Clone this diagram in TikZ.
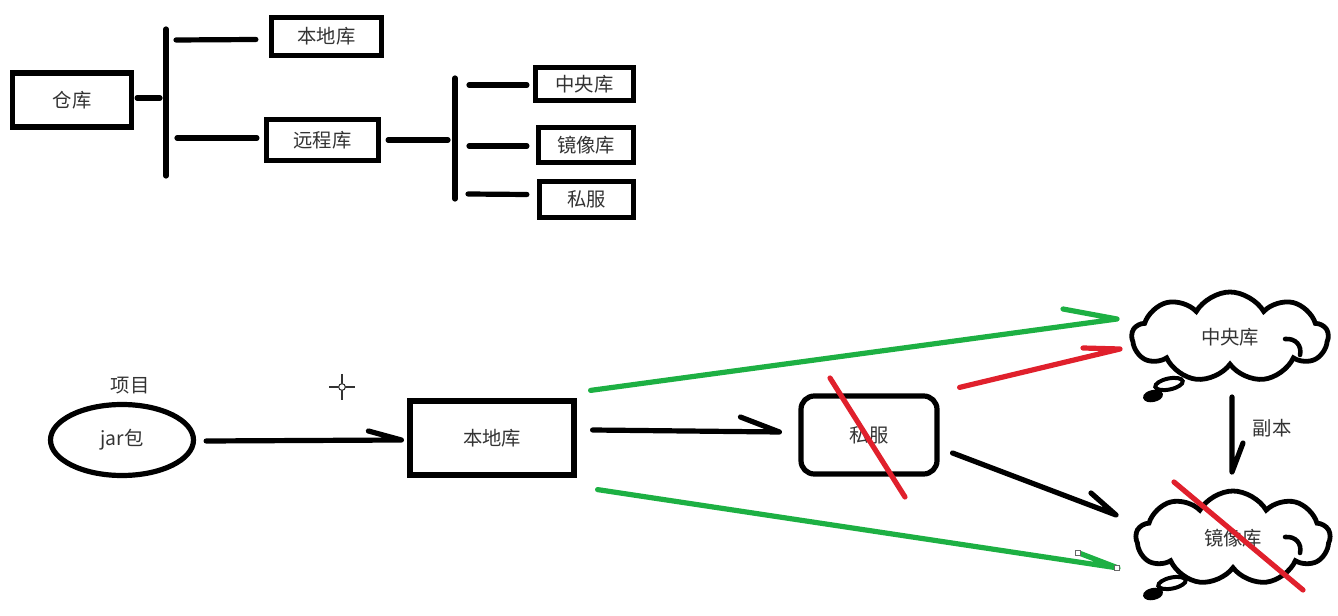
\documentclass[tikz,border=0pt]{standalone}
\usepackage{fontspec}
\setmainfont{Noto Sans CJK SC}
\usetikzlibrary{shapes.geometric,shapes.symbols,calc}
\definecolor{txt}{HTML}{333333}
\definecolor{grn}{HTML}{1DB043}
\definecolor{rd}{HTML}{E0202C}
\tikzset{
  wh/.style 2 args={minimum width=#1*0.75pt, minimum height=#2*0.75pt},
  lbl/.style={text=txt, font=\fontsize{14.5}{16}\selectfont, inner sep=0pt},
  tbox/.style={draw, line width=3.9pt, lbl},
  ln/.style={line width=3.9pt, line cap=round},
  arr/.style={line width=3.9pt, line cap=round, line join=round},
  cld/.style={cloud, draw, line width=3.6pt, cloud puffs=9, cloud puff arc=120, aspect=2.2, lbl},
  bub/.style={ellipse, draw, line width=3pt, inner sep=0pt},
  curl/.style={line width=3.4pt, line cap=round},
  slash/.style={rd, line width=3.9pt, line cap=round}}
\begin{document}
\begin{tikzpicture}[x=0.75pt,y=-0.75pt]
\useasboundingbox (0,0) rectangle (1338,616);
% ---------- top tree ----------
\node[tbox, wh={119}{54}] (ck) at (72,100) {仓库};
\node[tbox, wh={110}{38}] (bd) at (326.5,36.5) {本地库};
\node[tbox, wh={112}{41}] (yc) at (322.5,140) {远程库};
\node[tbox, wh={98}{33}] (zy) at (584.5,84) {中央库};
\node[tbox, wh={95}{35}] (jx) at (586,145) {镜像库};
\node[tbox, wh={94}{36}] (sf) at (586.5,199.5) {私服};
\coordinate (b1t) at (166,29);
\coordinate (b1b) at (166,176);
\coordinate (b2t) at (455,78);
\coordinate (b2b) at (455,199);
\draw[ln] (b1t) -- (b1b);
\draw[ln] (b2t) -- (b2b);
\draw[ln] ($(ck.east)+(3,-2)$) -- (160,98);
\draw[ln] (176,40) -- ($(bd.west)+(-13,3)$);
\draw[ln] (177,138) -- ($(yc.west)+(-7,-2)$);
\draw[ln] ($(yc.east)+(7,0)$) -- (448,140);
\draw[ln] (469,85) -- ($(zy.west)+(-6,1)$);
\draw[ln] (469,146) -- ($(jx.west)+(-9,1)$);
\draw[ln] (468,194) -- ($(sf.west)+(-10,-5)$);
% ---------- bottom ----------
\node[lbl] (xm) at (130,386) {项目};
\node[ellipse, draw, line width=3.9pt, lbl, wh={143}{71}] (jar) at (122,440) {jar包};
\node[tbox, wh={164}{74}] (bdk) at (492,438) {本地库};
\node[draw, line width=3.9pt, rounded corners=10pt, lbl, wh={136}{78}] (ps) at (869,435) {私服};
\node[cld, wh={196}{90}] (c1) at (1230,337) {中央库};
\node[cld, wh={194}{94}] (c2) at (1233,538) {镜像库};
\draw[curl] ($(c1.center)+(55,2)$) .. controls ($(c1.center)+(66,1)$) and ($(c1.center)+(72,9)$) .. ($(c1.center)+(70,18)$);
\draw[curl] ($(c2.center)+(52,-1)$) .. controls ($(c2.center)+(63,-2)$) and ($(c2.center)+(69,6)$) .. ($(c2.center)+(67,15)$);
\node[bub, rotate=12, wh={28}{11}] (c1b1) at (1169,384) {};
\node[bub, rotate=12, fill, wh={16}{8}] (c1b2) at (1153,396) {};
\node[bub, rotate=12, wh={28}{11}] (c2b1) at (1172,583) {};
\node[bub, rotate=12, fill, wh={16}{8}] (c2b2) at (1153,594) {};
% arrows
\draw[arr] ($(jar.east)+(10,1)$) -- ($(bdk.west)+(-6,2)$) -- ++(-33,-9);
\draw[arr] ($(bdk.east)+(16,-8)$) -- ($(ps.west)+(-19,-3)$) -- ++(-39,-15);
\draw[arr] ($(ps.east)+(13,18)$) -- ($(c2.center)+(-117,-23)$) -- ++(-25,-22);
\draw[arr, grn] ($(bdk.north east)+(14,-8)$) -- ($(c1.center)+(-113,-18)$) -- ++(-54,-10);
\draw[arr, rd] ($(ps.north east)+(20,-6)$) -- ($(c1.center)+(-110,12)$) -- ++(-37,-1);
\draw[arr, grn] ($(bdk.south east)+(21,12)$) -- ($(c2.center)+(-115,30)$) -- ++(-39,-15);
\draw[arr] ($(c1.center)+(2,60)$) -- ($(c2.center)+(-1,-66)$) -- ++(11,-29);
\node[lbl] (fb) at (1272,428) {副本};
% slashes
\draw[slash] ($(ps.center)+(-39,-57)$) -- ($(ps.center)+(36,62)$);
\draw[slash] ($(c2.center)+(-59,-56)$) -- ($(c2.center)+(70,52)$);
% cursor and handles
\coordinate (cur) at (342,387);
\draw[line width=0.9pt, black!80] ($(cur)+(-13,0)$) -- ($(cur)+(13,0)$) ($(cur)+(0,-13)$) -- ($(cur)+(0,13)$);
\draw[line width=0.8pt, black!80, fill=white] (cur) circle (2.5pt);
\node[draw=black!60, fill=white, line width=0.6pt, minimum size=3.5pt, inner sep=0pt] (h1) at (1078,553) {};
\node[draw=black!60, fill=white, line width=0.6pt, minimum size=3.5pt, inner sep=0pt] (h2) at (1117,568) {};
\end{tikzpicture}
\end{document}
